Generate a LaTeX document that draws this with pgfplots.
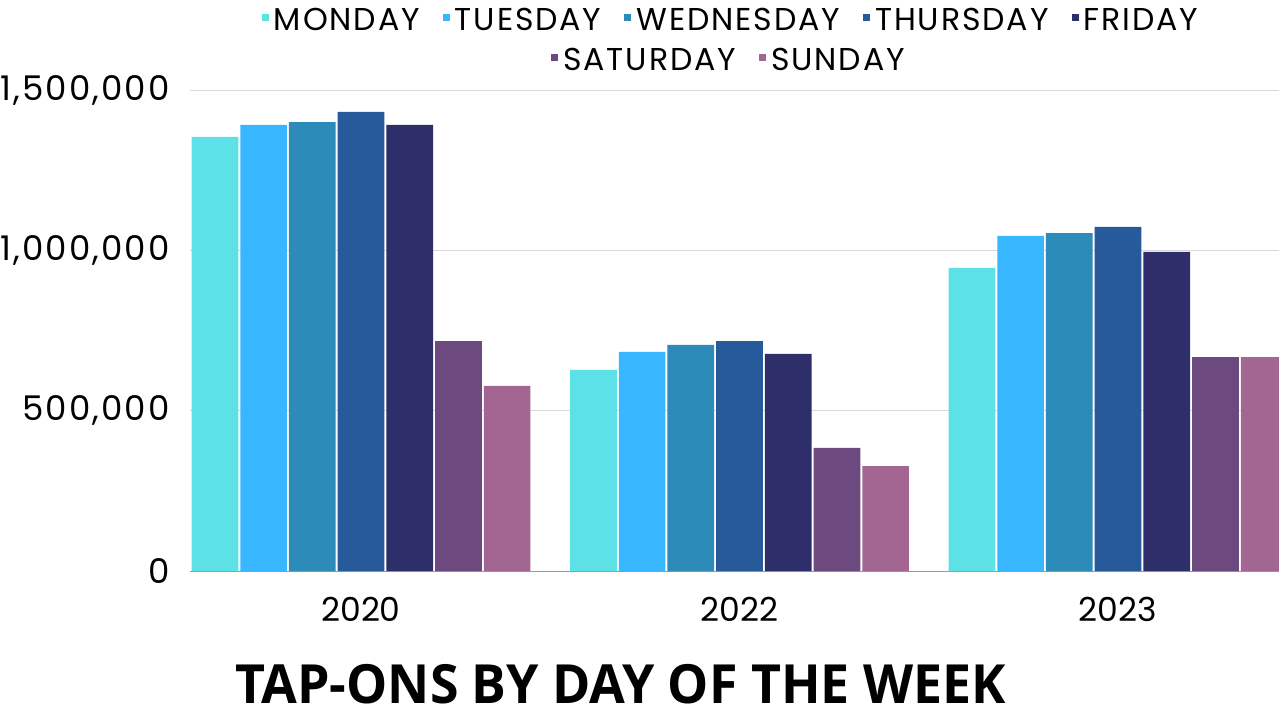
\documentclass[border=0pt]{standalone}
\usepackage{fontspec}
\setmainfont{Poppins}
\newfontfamily\legfont{Poppins}[LetterSpace=6.0]
\newfontfamily\ttlfont{Open Sans}[FakeStretch=0.96]
\usepackage{pgfplots}
\pgfplotsset{compat=1.18}

\definecolor{mon}{HTML}{5CE1E6}
\definecolor{tue}{HTML}{38B6FF}
\definecolor{wed}{HTML}{2D8BBA}
\definecolor{thu}{HTML}{275A9A}
\definecolor{fri}{HTML}{2E2E6A}
\definecolor{sat}{HTML}{6C4A80}
\definecolor{sun}{HTML}{A36693}

\newcommand\legitem[2]{{\color{#1}\rule[4.5pt]{3.5pt}{3.5pt}}\hspace{2.5pt}#2}

\begin{document}
\begin{tikzpicture}[x=0.5pt,y=0.5pt]
\useasboundingbox (0,0) rectangle (1279,720);
\clip (0,0) rectangle (1279,720);
\begin{axis}[
    at={(95pt,74.5pt)}, anchor=south west,
    scale only axis, width=549.5pt, height=240.5pt,
    ybar=1pt, bar width=23.35pt,
    xmin=-0.4518, xmax=2.4518, ymin=0, ymax=1500000,
    xtick={0,1,2}, xticklabels={2020,2022,2023},
    ytick={0,500000,1000000,1500000},
    yticklabels={0,{500,000},{1,000,000},{1,500,000}},
    scaled y ticks=false,
    major tick length=0pt,
    ymajorgrids, grid style={black!15, line width=0.5pt},
    axis x line*=bottom, axis y line*=left,
    axis line style={-},
    x axis line style={black!40, line width=0.5pt},
    y axis line style={draw=none},
    yticklabel style={font=\legfont\fontsize{17}{18}\selectfont,
        anchor=east, inner sep=0pt, xshift=-10pt},
    xticklabel style={font=\fontsize{16.5}{18}\selectfont,
        anchor=north, inner sep=0pt, yshift=-13pt},
    every axis plot/.append style={draw=none},
]
\addplot[fill=mon] coordinates {(0,1354000) (1,627000) (2,945000)};
\addplot[fill=tue] coordinates {(0,1391000) (1,683000) (2,1045000)};
\addplot[fill=wed] coordinates {(0,1400000) (1,705000) (2,1054000)};
\addplot[fill=thu] coordinates {(0,1432000) (1,717000) (2,1073000)};
\addplot[fill=fri] coordinates {(0,1391000) (1,677000) (2,995000)};
\addplot[fill=sat] coordinates {(0,717000) (1,384000) (2,667000)};
\addplot[fill=sun] coordinates {(0,577000) (1,327000) (2,667000)};
\end{axis}
\node[anchor=base, inner sep=0pt, font=\legfont\fontsize{15.8}{17}\selectfont] at (730,690)
  {\legitem{mon}{MONDAY}\hspace{11.5pt}\legitem{tue}{TUESDAY}\hspace{11.5pt}\legitem{wed}{WEDNESDAY}\hspace{11.5pt}\legitem{thu}{THURSDAY}\hspace{11.5pt}\legitem{fri}{FRIDAY}};
\node[anchor=base, inner sep=0pt, font=\legfont\fontsize{15.8}{17}\selectfont] at (728,650)
  {\legitem{sat}{SATURDAY}\hspace{11.5pt}\legitem{sun}{SUNDAY}};
\node[anchor=base, inner sep=0pt, font=\ttlfont\bfseries\fontsize{27}{30}\selectfont] at (620.5,17)
  {TAP-ONS BY DAY OF THE WEEK};
\end{tikzpicture}
\end{document}
